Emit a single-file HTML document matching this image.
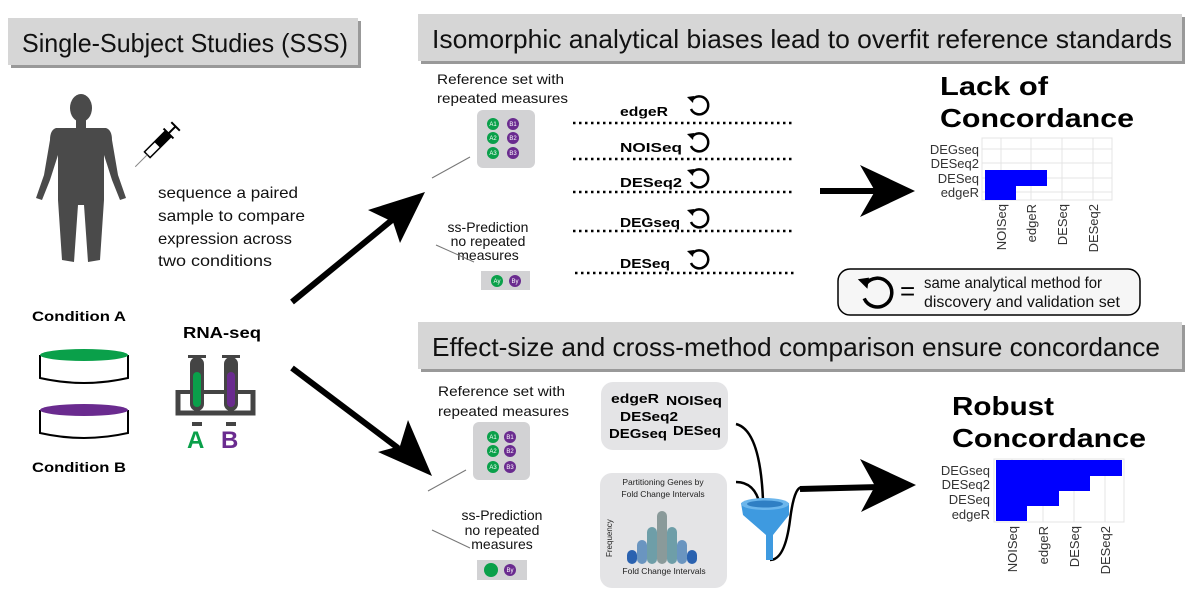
<!DOCTYPE html>
<html><head><meta charset="utf-8"><style>
body{margin:0;background:#fff;}
svg{display:block;font-family:"Liberation Sans",sans-serif;}
.t{font-size:26px;fill:#111;}
.s{font-size:16px;fill:#111;}
.b{font-weight:bold;fill:#000;}
.c{font-size:13px;fill:#333;}
.r{font-size:14px;fill:#111;}
</style></head><body>
<svg width="1200" height="608" viewBox="0 0 1200 608" xmlns="http://www.w3.org/2000/svg">
<defs>
<g id="loop"><path d="M-7,-5 A9,9 0 1 1 -8,4" fill="none" stroke="#000" stroke-width="2.5"/><path d="M-12,-8 L-5,-9 L-6,-2 Z" fill="#000"/></g>
</defs>
<rect x="11" y="21" width="350" height="47" fill="#999"/>
<rect x="8" y="18" width="350" height="47" fill="#d6d6d6"/>
<text x="22" y="52" class="t" textLength="326" lengthAdjust="spacingAndGlyphs">Single-Subject Studies (SSS)</text>
<rect x="421" y="17" width="764" height="47" fill="#999"/>
<rect x="418" y="14" width="764" height="47" fill="#d6d6d6"/>
<text x="432" y="48" class="t" textLength="740" lengthAdjust="spacingAndGlyphs">Isomorphic analytical biases lead to overfit reference standards</text>
<rect x="421" y="325" width="764" height="47" fill="#999"/>
<rect x="418" y="322" width="764" height="47" fill="#d6d6d6"/>
<text x="432" y="356" class="t" textLength="728" lengthAdjust="spacingAndGlyphs">Effect-size and cross-method comparison ensure concordance</text>

<g fill="#4a4a4a">
<ellipse cx="81" cy="108" rx="11" ry="14"/>
<rect x="76" y="118" width="10" height="10"/>
<path d="M56,128 L106,128 Q112,130 112,140 L118,175 L126,198 L120,200 L112,180 L104,155 L104,200 L100,260 L88,262 L84,205 L78,205 L74,262 L62,260 L58,200 L58,155 L50,180 L42,200 L36,198 L44,175 L50,140 Q50,130 56,128 Z"/>
</g>
<g transform="translate(160,142) rotate(-45)">
<rect x="-18" y="-4" width="30" height="8" fill="#fff" stroke="#000" stroke-width="1.5"/>
<rect x="-4" y="-4" width="16" height="8" fill="#000"/>
<line x1="12" y1="0" x2="22" y2="0" stroke="#000" stroke-width="2"/>
<line x1="22" y1="-6" x2="22" y2="6" stroke="#000" stroke-width="2"/>
<line x1="12" y1="-7" x2="12" y2="7" stroke="#000" stroke-width="2"/>
<line x1="-18" y1="0" x2="-35" y2="0" stroke="#888" stroke-width="1"/>
</g>
<text class="s" x="158" y="198" textLength="140" lengthAdjust="spacingAndGlyphs">sequence a paired</text>
<text class="s" x="158" y="221" textLength="147" lengthAdjust="spacingAndGlyphs">sample to compare</text>
<text class="s" x="158" y="244" textLength="134" lengthAdjust="spacingAndGlyphs">expression across</text>
<text class="s" x="158" y="266" textLength="114" lengthAdjust="spacingAndGlyphs">two conditions</text>

<text x="32" y="321" class="b" font-size="14" textLength="94" lengthAdjust="spacingAndGlyphs">Condition A</text>
<text x="32" y="472" class="b" font-size="14" textLength="94" lengthAdjust="spacingAndGlyphs">Condition B</text>
<g stroke="#000" stroke-width="2">
<path d="M40,355 L40,378 Q84,388 128,378 L128,355" fill="#fff"/>
<ellipse cx="84" cy="355" rx="44" ry="6" fill="#0aa04a" stroke="none"/>
<path d="M40,410 L40,433 Q84,443 128,433 L128,410" fill="#fff"/>
<ellipse cx="84" cy="410" rx="44" ry="6" fill="#6a2b8f" stroke="none"/>
</g>
<text x="183" y="338" class="b" font-size="16" textLength="78" lengthAdjust="spacingAndGlyphs">RNA-seq</text>
<g>
<path d="M178,390 L178,413 L253,413 L253,390" fill="none" stroke="#444" stroke-width="5"/>
<line x1="178" y1="392" x2="253" y2="392" stroke="#444" stroke-width="4"/>
<rect x="190" y="357" width="14" height="54" rx="7" fill="#444"/>
<rect x="193" y="372" width="8" height="35" rx="4" fill="#0aa04a"/>
<rect x="224" y="357" width="14" height="54" rx="7" fill="#444"/>
<rect x="227" y="372" width="8" height="35" rx="4" fill="#6a2b8f"/>
<rect x="188" y="355" width="18" height="3" fill="#444"/><rect x="222" y="355" width="18" height="3" fill="#444"/>
<rect x="192" y="422" width="10" height="4" fill="#444"/><rect x="226" y="422" width="10" height="4" fill="#444"/>
<text x="187" y="448" font-size="24" font-weight="bold" fill="#0aa04a">A</text>
<text x="221" y="448" font-size="24" font-weight="bold" fill="#6a2b8f">B</text>
</g>

<line x1="292" y1="302" x2="392" y2="220" stroke="#000" stroke-width="6"/>
<path d="M425,192 L368,210 L393,222 L400,243 Z" fill="#000"/>
<line x1="292" y1="368" x2="398" y2="448" stroke="#000" stroke-width="6"/>
<path d="M432,476 L408,420 L400,446 L378,452 Z" fill="#000"/>
<line x1="820" y1="191" x2="880" y2="191" stroke="#000" stroke-width="6"/>
<path d="M915,191 L860,165 L875,191 L860,217 Z" fill="#000"/>
<line x1="800" y1="489" x2="880" y2="487" stroke="#000" stroke-width="6"/>
<path d="M916,485 L860,459 L875,486 L861,512 Z" fill="#000"/>

<text class="r" x="437" y="84" textLength="127" lengthAdjust="spacingAndGlyphs">Reference set with</text>
<text class="r" x="437" y="103" textLength="131" lengthAdjust="spacingAndGlyphs">repeated measures</text>
<rect x="477" y="110" width="58" height="58" rx="6" fill="#d2d2d4"/>
<g font-size="6" fill="#fff" text-anchor="middle">
<circle cx="493" cy="124" r="6" fill="#0aa04a"/><circle cx="513" cy="124" r="6" fill="#6a2b8f"/>
<circle cx="493" cy="138" r="6" fill="#0aa04a"/><circle cx="513" cy="138" r="6" fill="#6a2b8f"/>
<circle cx="493" cy="153" r="6" fill="#0aa04a"/><circle cx="513" cy="153" r="6" fill="#6a2b8f"/>
<text x="493" y="126">A1</text><text x="513" y="126">B1</text>
<text x="493" y="140">A2</text><text x="513" y="140">B2</text>
<text x="493" y="155">A3</text><text x="513" y="155">B3</text>
</g>
<line x1="432" y1="178" x2="470" y2="157" stroke="#777" stroke-width="1"/>
<text class="r" x="488" y="232" text-anchor="middle">ss-Prediction</text>
<text class="r" x="488" y="246" text-anchor="middle">no repeated</text>
<text class="r" x="488" y="260" text-anchor="middle">measures</text>
<line x1="436" y1="245" x2="474" y2="262" stroke="#777" stroke-width="1"/>
<rect x="481" y="271" width="49" height="19" fill="#d2d2d4"/>
<circle cx="497" cy="281" r="6" fill="#0aa04a"/><circle cx="515" cy="281" r="6" fill="#6a2b8f"/>
<g font-size="6" fill="#fff" text-anchor="middle"><text x="497" y="283">Ay</text><text x="515" y="283">By</text></g>
<g stroke="#000" stroke-width="2.5" stroke-dasharray="2.5,3.5">
<line x1="573" y1="123" x2="795" y2="123"/>
<line x1="573" y1="159" x2="795" y2="159"/>
<line x1="573" y1="192" x2="795" y2="192"/>
<line x1="573" y1="231" x2="795" y2="231"/>
<line x1="575" y1="273" x2="797" y2="273"/>
</g>
<g class="b" font-size="13">
<text x="620" y="116" textLength="48" lengthAdjust="spacingAndGlyphs">edgeR</text><text x="620" y="152" textLength="62" lengthAdjust="spacingAndGlyphs">NOISeq</text><text x="620" y="187" textLength="62" lengthAdjust="spacingAndGlyphs">DESeq2</text><text x="620" y="227" textLength="60" lengthAdjust="spacingAndGlyphs">DEGseq</text><text x="620" y="268" textLength="50" lengthAdjust="spacingAndGlyphs">DESeq</text>
</g>
<use href="#loop" x="699" y="105"/><use href="#loop" x="699" y="142"/><use href="#loop" x="699" y="178"/><use href="#loop" x="699" y="218"/><use href="#loop" x="699" y="259"/>

<text x="940" y="95" font-size="26" font-weight="bold" fill="#000" textLength="108" lengthAdjust="spacingAndGlyphs">Lack of</text>
<text x="940" y="127" font-size="26" font-weight="bold" fill="#000" textLength="194" lengthAdjust="spacingAndGlyphs">Concordance</text>
<g stroke="#e4e4e4" stroke-width="1" fill="none">
<rect x="982" y="138" width="130" height="62"/>
<line x1="1001" y1="138" x2="1001" y2="200"/><line x1="1031" y1="138" x2="1031" y2="200"/><line x1="1062" y1="138" x2="1062" y2="200"/><line x1="1093" y1="138" x2="1093" y2="200"/>
<line x1="982" y1="149" x2="1112" y2="149"/><line x1="982" y1="163" x2="1112" y2="163"/><line x1="982" y1="178" x2="1112" y2="178"/><line x1="982" y1="192" x2="1112" y2="192"/>
</g>
<rect x="985" y="170" width="62" height="16" fill="#0000ff"/>
<rect x="985" y="186" width="31" height="14" fill="#0000ff"/>
<g class="c" text-anchor="end"><text x="979" y="154">DEGseq</text><text x="979" y="168">DESeq2</text><text x="979" y="183">DESeq</text><text x="979" y="197">edgeR</text></g>
<g class="c" text-anchor="end">
<text transform="translate(1006,204) rotate(-90)">NOISeq</text>
<text transform="translate(1036,204) rotate(-90)">edgeR</text>
<text transform="translate(1067,204) rotate(-90)">DESeq</text>
<text transform="translate(1098,204) rotate(-90)">DESeq2</text>
</g>
<rect x="838" y="269" width="302" height="46" rx="12" fill="#f6f6f6" stroke="#000" stroke-width="1.5"/>
<g transform="translate(877,292) scale(1.6)"><path d="M-7,-5 A9,9 0 1 1 -8,4" fill="none" stroke="#000" stroke-width="2.2"/><path d="M-12,-8 L-5,-9 L-6,-2 Z" fill="#000"/></g>
<text x="900" y="300" font-size="26" fill="#000">=</text>
<text class="s" x="924" y="288" font-size="15" textLength="178" lengthAdjust="spacingAndGlyphs">same analytical method for</text>
<text class="s" x="924" y="307" font-size="15" textLength="196" lengthAdjust="spacingAndGlyphs">discovery and validation set</text>

<text class="r" x="438" y="396" textLength="127" lengthAdjust="spacingAndGlyphs">Reference set with</text>
<text class="r" x="438" y="416" textLength="131" lengthAdjust="spacingAndGlyphs">repeated measures</text>
<rect x="473" y="422" width="57" height="58" rx="6" fill="#d2d2d4"/>
<g font-size="6" fill="#fff" text-anchor="middle">
<circle cx="493" cy="437" r="6" fill="#0aa04a"/><circle cx="510" cy="437" r="6" fill="#6a2b8f"/>
<circle cx="493" cy="451" r="6" fill="#0aa04a"/><circle cx="510" cy="451" r="6" fill="#6a2b8f"/>
<circle cx="493" cy="467" r="6" fill="#0aa04a"/><circle cx="510" cy="467" r="6" fill="#6a2b8f"/>
<text x="493" y="439">A1</text><text x="510" y="439">B1</text>
<text x="493" y="453">A2</text><text x="510" y="453">B2</text>
<text x="493" y="469">A3</text><text x="510" y="469">B3</text>
</g>
<line x1="428" y1="491" x2="466" y2="470" stroke="#777" stroke-width="1"/>
<text class="r" x="502" y="520" text-anchor="middle" font-size="15">ss-Prediction</text>
<text class="r" x="502" y="535" text-anchor="middle" font-size="15">no repeated</text>
<text class="r" x="502" y="549" text-anchor="middle" font-size="15">measures</text>
<line x1="432" y1="530" x2="470" y2="548" stroke="#777" stroke-width="1"/>
<rect x="477" y="560" width="50" height="20" fill="#d2d2d4"/>
<circle cx="491" cy="570" r="7" fill="#0aa04a"/><circle cx="510" cy="570" r="6" fill="#6a2b8f"/>
<text x="510" y="572" font-size="6" fill="#fff" text-anchor="middle">By</text>

<rect x="601" y="382" width="127" height="68" rx="12" fill="#e4e4e6"/>
<g class="b" font-size="13">
<text x="611" y="403" textLength="48" lengthAdjust="spacingAndGlyphs">edgeR</text><text x="666" y="405" textLength="56" lengthAdjust="spacingAndGlyphs">NOISeq</text><text x="620" y="421" textLength="58" lengthAdjust="spacingAndGlyphs">DESeq2</text><text x="609" y="438" textLength="58" lengthAdjust="spacingAndGlyphs">DEGseq</text><text x="673" y="435" textLength="48" lengthAdjust="spacingAndGlyphs">DESeq</text>
</g>
<rect x="600" y="473" width="127" height="115" rx="12" fill="#e4e4e6"/>
<text x="663" y="485" font-size="8.5" text-anchor="middle" fill="#222">Partitioning Genes by</text>
<text x="663" y="497" font-size="8.5" text-anchor="middle" fill="#222">Fold Change Intervals</text>
<text transform="translate(612,557) rotate(-90)" font-size="8" fill="#222">Frequency</text>
<text x="664" y="574" font-size="8.5" text-anchor="middle" fill="#222">Fold Change Intervals</text>
<g>
<rect x="627" y="550" width="10" height="14" rx="5" fill="#2a62b0"/>
<rect x="637" y="540" width="10" height="24" rx="5" fill="#6a95c0"/>
<rect x="647" y="527" width="10" height="37" rx="5" fill="#6e9ea8"/>
<rect x="657" y="511" width="10" height="53" rx="5" fill="#8a9a9a"/>
<rect x="667" y="527" width="10" height="37" rx="5" fill="#6e9ea8"/>
<rect x="677" y="540" width="10" height="24" rx="5" fill="#6a95c0"/>
<rect x="687" y="550" width="10" height="14" rx="5" fill="#2a62b0"/>
</g>
<g fill="none" stroke="#000" stroke-width="2.5">
<path d="M736,424 Q760,430 763,500"/>
<path d="M736,482 Q755,482 760,505"/>
<path d="M770,560 Q785,560 790,520 Q795,480 805,489"/>
</g>
<path d="M741,503 L789,503 L789,515 L773,535 L773,560 L766,560 L766,535 L743,515 Z" fill="#3e9ae0"/>
<ellipse cx="765" cy="504" rx="24" ry="6" fill="#6cb6ec"/>
<ellipse cx="765" cy="504" rx="18" ry="3.5" fill="#2f7fc4"/>

<text x="952" y="415" font-size="26" font-weight="bold" fill="#000" textLength="102" lengthAdjust="spacingAndGlyphs">Robust</text>
<text x="952" y="447" font-size="26" font-weight="bold" fill="#000" textLength="194" lengthAdjust="spacingAndGlyphs">Concordance</text>
<g stroke="#e4e4e4" stroke-width="1" fill="none">
<rect x="994" y="459" width="130" height="63"/>
<line x1="1012" y1="459" x2="1012" y2="522"/><line x1="1043" y1="459" x2="1043" y2="522"/><line x1="1074" y1="459" x2="1074" y2="522"/><line x1="1105" y1="459" x2="1105" y2="522"/>
</g>
<rect x="996" y="460" width="126" height="16" fill="#0000ff"/>
<rect x="996" y="476" width="94" height="15" fill="#0000ff"/>
<rect x="996" y="491" width="63" height="15" fill="#0000ff"/>
<rect x="996" y="506" width="31" height="15" fill="#0000ff"/>
<g class="c" text-anchor="end"><text x="990" y="475">DEGseq</text><text x="990" y="489">DESeq2</text><text x="990" y="504">DESeq</text><text x="990" y="519">edgeR</text></g>
<g class="c" text-anchor="end">
<text transform="translate(1017,526) rotate(-90)">NOISeq</text>
<text transform="translate(1048,526) rotate(-90)">edgeR</text>
<text transform="translate(1079,526) rotate(-90)">DESeq</text>
<text transform="translate(1110,526) rotate(-90)">DESeq2</text>
</g>
</svg>
</body></html>
